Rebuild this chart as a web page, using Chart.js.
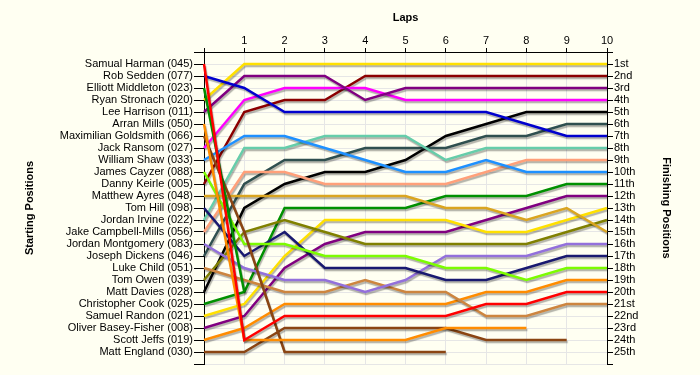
<!DOCTYPE html>
<html>
<head>
<meta charset="utf-8">
<title>Lap chart</title>
<script src="https://cdn.jsdelivr.net/npm/chart.js@4/dist/chart.umd.min.js"></script>
<style>
  html, body { margin: 0; padding: 0; background: #FFFFF2; }
  canvas { display: block; }
</style>
</head>
<body>
<canvas id="lapChart" width="700" height="375"></canvas>
<script>
// laps along the top axis
const laps = [0, 1, 2, 3, 4, 5, 6, 7, 8, 9, 10];

// drivers in starting order (left axis labels)
const drivers = [
    'Samual Harman (045)', 'Rob Sedden (077)', 'Elliott Middleton (023)', 'Ryan Stronach (020)',
    'Lee Harrison (011)', 'Arran Mills (050)', 'Maximilian Goldsmith (066)', 'Jack Ransom (027)',
    'William Shaw (033)', 'James Cayzer (088)', 'Danny Keirle (005)', 'Matthew Ayres (048)',
    'Tom Hill (098)', 'Jordan Irvine (022)', 'Jake Campbell-Mills (056)', 'Jordan Montgomery (083)',
    'Joseph Dickens (046)', 'Luke Child (051)', 'Tom Owen (039)', 'Matt Davies (028)',
    'Christopher Cook (025)', 'Samuel Randon (021)', 'Oliver Basey-Fisher (008)', 'Scott Jeffs (019)',
    'Matt England (030)'
];

// right axis labels
const finishLabels = ['1st', '2nd', '3rd', '4th', '5th', '6th', '7th', '8th', '9th', '10th',
    '11th', '12th', '13th', '14th', '15th', '16th', '17th', '18th', '19th', '20th',
    '21st', '22nd', '23rd', '24th', '25th'];

// position of each driver at the end of every lap (lap 0 = grid)
const harman = [1, 24, 22, 22, 22, 22, 22, 21, 21, 20, 20];
const sedden = [2, 3, 5, 5, 5, 5, 5, 5, 6, 7, 7];
const middleton = [3, 20, null, null, null, null, null, null, null, null, null];
const stronach = [4, 1, 1, 1, 1, 1, 1, 1, 1, 1, 1];
const harrison = [5, 2, 2, 2, 4, 3, 3, 3, 3, 3, 3];
const mills = [6, 24, 24, 24, 24, 24, 23, 23, 23, null, null];
const goldsmith = [7, 15, 25, 25, 25, 25, 25, null, null, null, null];
const ransom = [8, 4, 3, 3, 3, 4, 4, 4, 4, 4, 4];
const shaw = [9, 7, 7, 8, 9, 10, 10, 9, 10, 10, 10];
const cayzer = [10, 16, 16, 17, 17, 17, 18, 18, 19, 18, 18];
const keirle = [11, 5, 4, 4, 2, 2, 2, 2, 2, 2, 2];
const ayres = [12, 12, 12, 12, 12, 12, 13, 13, 14, 13, 15];
const hill = [13, 17, 15, 18, 18, 18, 19, 19, 18, 17, 17];
const irvine = [14, 8, 8, 7, 7, 7, 9, 8, 8, 8, 8];
const campbellMills = [15, 10, 10, 11, 11, 11, 11, 10, 9, 9, 9];
const montgomery = [16, 18, 19, 19, 20, 19, 17, 17, 17, 16, 16];
const dickens = [17, 11, 9, 9, 8, 8, 8, 7, 7, 6, 6];
const child = [18, 19, 20, 20, 19, 20, 20, 22, 22, 21, 21];
const owen = [19, 15, 14, 15, 16, 16, 16, 16, 16, 15, 14];
const davies = [20, 13, 11, 10, 10, 9, 7, 6, 5, 5, 5];
const cook = [21, 20, 13, 13, 13, 13, 12, 12, 12, 11, 11];
const randon = [22, 21, 17, 14, 14, 14, 14, 15, 15, 14, 13];
const baseyFisher = [23, 22, 18, 16, 15, 15, 15, 14, 13, 12, 12];
const jeffs = [24, 23, 21, 21, 21, 21, 21, 20, 20, 19, 19];
const england = [25, 25, 23, 23, 23, 23, 23, 24, 24, 24, null];

const series = [harman, sedden, middleton, stronach, harrison, mills, goldsmith, ransom,
    shaw, cayzer, keirle, ayres, hill, irvine, campbellMills, montgomery, dickens, child,
    owen, davies, cook, randon, baseyFisher, jeffs, england];

const lineColors = ['#FF0000', '#0000CD', '#009000', '#FFE000', '#800080', '#FF8C00', '#8B4513',
    '#FF00FF', '#1E90FF', '#7CFC00', '#8B0000', '#DAA520', '#191970', '#66CDAA', '#FFA07A',
    '#9370DB', '#2F4F4F', '#CD853F', '#808000', '#000000', '#009000', '#FFE000', '#800080',
    '#FF8C00', '#8B4513'];

const bgColor = '#FFFFF2';
const gridColor = '#E6E6E6';
const labelFont = { family: 'Liberation Sans, Arial, sans-serif', size: 11 };
const titleFont = { family: 'Liberation Sans, Arial, sans-serif', size: 11, weight: 'bold' };

const positionTicks = [];
for (let i = 0; i <= 26; i++) positionTicks.push({ value: i });

// paint the page colour behind everything
const background = {
    id: 'background',
    beforeDraw(chart) {
        const ctx = chart.ctx;
        ctx.save();
        ctx.fillStyle = bgColor;
        ctx.fillRect(0, 0, chart.width, chart.height);
        ctx.restore();
    }
};

// soft drop shadow under each line
const lineShadow = {
    id: 'lineShadow',
    beforeDatasetDraw(chart) {
        const ctx = chart.ctx;
        ctx.save();
        ctx.shadowColor = 'rgba(0, 0, 0, 0.3)';
        ctx.shadowBlur = 1;
        ctx.shadowOffsetX = 1;
        ctx.shadowOffsetY = 2;
    },
    afterDatasetDraw(chart) {
        chart.ctx.restore();
    }
};

const datasets = series.map(function (data, i) {
    return {
        label: drivers[i],
        data: data,
        borderColor: lineColors[i],
        backgroundColor: lineColors[i],
        borderWidth: 2.5,
        pointRadius: 0,
        pointHoverRadius: 0,
        tension: 0,
        fill: false,
        spanGaps: false
    };
});

const ctx = document.getElementById('lapChart').getContext('2d');
new Chart(ctx, {
    type: 'line',
    data: { labels: laps, datasets: datasets },
    plugins: [background, lineShadow],
    options: {
        responsive: false,
        animation: false,
        devicePixelRatio: 1,
        layout: { padding: { top: 0, left: 0, right: 0, bottom: 11 } },
        plugins: {
            legend: { display: false },
            tooltip: { enabled: false }
        },
        scales: {
            x: {
                type: 'category',
                position: 'top',
                offset: false,
                afterFit: function (scale) { scale.height = 52; },
                border: { display: true, color: '#000', width: 1 },
                grid: { color: gridColor, tickColor: '#000', tickLength: 4 },
                ticks: {
                    color: '#000',
                    font: labelFont,
                    padding: 0,
                    maxRotation: 0,
                    autoSkip: false,
                    callback: function (v, i) { return i === 0 ? '' : String(laps[i]); }
                },
                title: {
                    display: true,
                    text: 'Laps',
                    color: '#000',
                    font: titleFont,
                    padding: { top: 11, bottom: 0 }
                }
            },
            y: {
                type: 'linear',
                position: 'left',
                reverse: true,
                min: 0,
                max: 26,
                afterFit: function (scale) { scale.width = 204; },
                afterBuildTicks: function (scale) { scale.ticks = positionTicks.map(t => ({ value: t.value })); },
                border: { display: true, color: '#000', width: 1 },
                grid: { color: gridColor, tickColor: '#000', tickLength: 10 },
                ticks: {
                    color: '#000',
                    font: labelFont,
                    padding: 1,
                    autoSkip: false,
                    callback: function (v) { return drivers[v - 1] || ''; }
                },
                title: {
                    display: true,
                    text: 'Starting Positions',
                    color: '#000',
                    font: titleFont,
                    padding: { top: 23, bottom: 0 }
                }
            },
            y2: {
                type: 'linear',
                position: 'right',
                reverse: true,
                min: 0,
                max: 26,
                afterFit: function (scale) { scale.width = 93; },
                afterBuildTicks: function (scale) { scale.ticks = positionTicks.map(t => ({ value: t.value })); },
                border: { display: true, color: '#000', width: 1 },
                grid: { drawOnChartArea: false, tickColor: '#000', tickLength: 6 },
                ticks: {
                    color: '#000',
                    font: labelFont,
                    padding: 1,
                    autoSkip: false,
                    callback: function (v) { return finishLabels[v - 1] || ''; }
                },
                title: {
                    display: true,
                    text: 'Finishing Positions',
                    color: '#000',
                    font: titleFont,
                    padding: { top: 27, bottom: 0 }
                }
            }
        }
    }
});
</script>
</body>
</html>
